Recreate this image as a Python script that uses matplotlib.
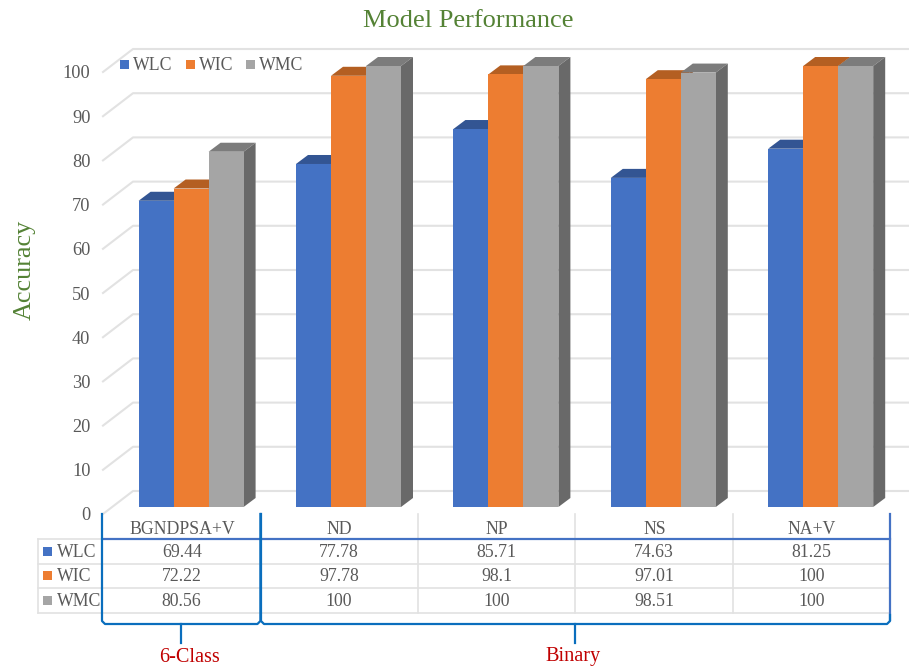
import matplotlib
matplotlib.use('Agg')
import matplotlib.pyplot as plt
from matplotlib.patches import Polygon, Rectangle

plt.rcParams['font.family'] = ['Liberation Serif', 'DejaVu Serif']

categories = ['BGNDPSA+V', 'ND', 'NP', 'NS', 'NA+V']
series_names = ['WLC', 'WIC', 'WMC']
wlc = [69.44, 77.78, 85.71, 74.63, 81.25]
wic = [72.22, 97.78, 98.1, 97.01, 100]
wmc = [80.56, 100, 100, 98.51, 100]
series_values = [wlc, wic, wmc]
y_ticks = [0, 10, 20, 30, 40, 50, 60, 70, 80, 90, 100]
group_labels = ['6-Class', 'Binary']

front_colors = ['#4472C4', '#ED7D31', '#A5A5A5']
top_colors = ['#335593', '#B45F22', '#7C7C7C']
side_colors = ['#2F5288', '#A9561E', '#696969']
grid_color = '#E2E2E2'
text_color = '#595959'
bracket_color = '#0A6EBD'
W, H = 909, 668


def add_axes_px(left, right, bottom, top, **kw):
    return fig.add_axes([left / W, 1 - bottom / H, (right - left) / W, (bottom - top) / H], **kw)


fig = plt.figure(figsize=(W / 100, H / 100), dpi=100)

# floor, back wall and left wall lines, tick labels sit on the front edge
wall = add_axes_px(103, 909, 514, 72)
wall.set_xlim(103, 909)
wall.set_ylim(0, 100)
wall.patch.set_visible(False)
for s in wall.spines.values():
    s.set_visible(False)
wall.set_xticks([])
wall.set_yticks(y_ticks)
wall.tick_params(axis='y', length=0, pad=9, labelsize=13.2, labelcolor=text_color)
back = 23 / 4.42
for v in y_ticks:
    wall.plot([103, 133, 909], [v, v + back, v + back], color=grid_color, lw=1.5, clip_on=False, zorder=1)

# bars: one column is a front face plus top and side faces
ax = add_axes_px(102.4, 889.4, 507, 66)
ax.set_xlim(-0.5, 4.5)
ax.set_ylim(0, 100)
ax.axis('off')
bar_w = 35 / 157.4
dx = 12 / 157.4
dy = 9 / 4.41
z = 2
for i in range(len(categories)):
    for s, vals in enumerate(series_values):
        v = vals[i]
        x0 = i + 0.0635 + (s - 1) * bar_w - bar_w / 2
        x1 = x0 + bar_w
        ax.add_patch(Polygon([(x0, v), (x1, v), (x1 + dx, v + dy), (x0 + dx, v + dy)],
                             facecolor=top_colors[s], edgecolor='none', clip_on=False, zorder=z))
        ax.add_patch(Polygon([(x1, 0), (x1 + dx, dy), (x1 + dx, v + dy), (x1, v)],
                             facecolor=side_colors[s], edgecolor='none', clip_on=False, zorder=z))
        ax.bar(x0, v, width=bar_w, align='edge', color=front_colors[s], clip_on=False, zorder=z + 1)
        z += 2

# pixel space overlay for table, legend, brackets and captions
ov = fig.add_axes([0, 0, 1, 1])
ov.set_xlim(0, W)
ov.set_ylim(H, 0)
ov.axis('off')
ov.patch.set_visible(False)

ov.text(468, 21, 'Model Performance', color='#548235', fontsize=19, ha='center', va='center')
ov.text(25, 270, 'Accuracy', color='#548235', fontsize=18.8, rotation=90, ha='center', va='center')

# legend
for name, c, xs, xt in zip(series_names, front_colors, [120, 186, 246], [133, 199, 259]):
    ov.add_patch(Rectangle((xs, 60), 9, 9, facecolor=c, edgecolor='none'))
    ov.text(xt, 65, name, color=text_color, fontsize=12.8, ha='left', va='center')

# data table
col_edges = [103, 260.4, 417.8, 575.2, 732.6, 890]
row_edges = [514, 539, 563.5, 588, 612.5]
gray_kw = dict(color=grid_color, lw=1.2, zorder=1)
blue_kw = dict(color='#4472C4', lw=1.6, zorder=3)
for y in row_edges[2:]:
    ov.plot([38, 890], [y, y], **gray_kw)
ov.plot([38, 103], [row_edges[1], row_edges[1]], **gray_kw)
ov.plot([38, 38], [row_edges[1], row_edges[-1]], **gray_kw)
for x in col_edges[2:-1]:
    ov.plot([x, x], [row_edges[0], row_edges[-1]], **gray_kw)
ov.plot([103, 890], [row_edges[1], row_edges[1]], **blue_kw)
ov.plot([890, 890], [514, 620], **blue_kw)

for j, cat in enumerate(categories):
    cx = (col_edges[j] + col_edges[j + 1]) / 2
    ov.text(cx + 0.5, 529, cat, color=text_color, fontsize=12.8, ha='center', va='center')
    for r, vals in enumerate(series_values):
        ov.text(cx, (row_edges[r + 1] + row_edges[r + 2]) / 2 + 1, f'{vals[j]:g}',
                color=text_color, fontsize=12.8, ha='center', va='center')
for r, name in enumerate(series_names):
    yc = (row_edges[r + 1] + row_edges[r + 2]) / 2
    ov.add_patch(Rectangle((43, yc - 4.5), 9, 9, facecolor=front_colors[r], edgecolor='none'))
    ov.text(57, yc + 1, name, color=text_color, fontsize=12.8, ha='left', va='center')


# curly brackets below the table
def bracket(x0, x1, xm):
    ov.plot([x0, x0, x0 + 3, x1 - 3, x1, x1], [514, 621, 624, 624, 621, 514 if x1 == 260.4 else 615],
            color=bracket_color, lw=1.6, zorder=4)
    ov.plot([xm, xm], [624, 643], color=bracket_color, lw=1.6, zorder=4)


bracket(102, 260.4, 181)
bracket(261, 890, 575)

ov.text(189.5, 657, group_labels[0], color='#C00000', fontsize=14.6, ha='center', va='center')
ov.text(573, 657, group_labels[1], color='#C00000', fontsize=14.6, ha='center', va='center')

fig.savefig('out.png', dpi=100)
